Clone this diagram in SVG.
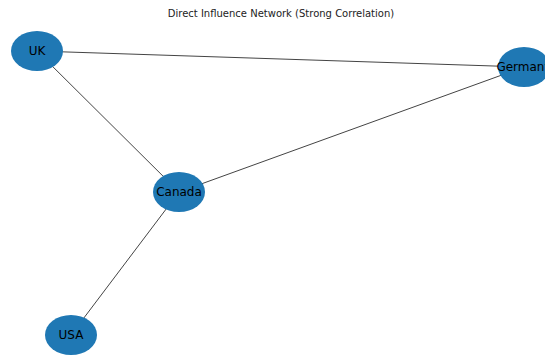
<svg xmlns="http://www.w3.org/2000/svg" width="545" height="356" viewBox="0 0 545 356">
  <style>
    .edge { stroke: #444; stroke-width: 1; fill: none; }
    .node ellipse { fill: #1f78b4; }
    .node text { font-family: "DejaVu Sans", sans-serif; font-size: 12px; fill: #000; text-anchor: middle; dominant-baseline: central; }
    .title { font-family: "DejaVu Sans", sans-serif; font-size: 10px; fill: #222; text-anchor: middle; }
  </style>
  <rect width="545" height="356" fill="#fff"/>
  <text class="title" x="281" y="17">Direct Influence Network (Strong Correlation)</text>
  <g id="edges">
    <line class="edge" x1="37" y1="51" x2="524" y2="67"/>
    <line class="edge" x1="37" y1="51" x2="179" y2="192"/>
    <line class="edge" x1="524" y1="67" x2="179" y2="192"/>
    <line class="edge" x1="179" y1="192" x2="71" y2="335"/>
  </g>
  <g id="node-uk" class="node">
    <ellipse cx="37" cy="51" rx="26" ry="20"/>
    <text x="37" y="51">UK</text>
  </g>
  <!-- this node sits on the right border; its label runs past the edge -->
  <g id="node-germany" class="node">
    <ellipse cx="524" cy="67" rx="26" ry="20"/>
    <text x="524" y="67">Germany</text>
  </g>
  <g id="node-canada" class="node">
    <ellipse cx="179" cy="192" rx="26" ry="20"/>
    <text x="179" y="192">Canada</text>
  </g>
  <g id="node-usa" class="node">
    <ellipse cx="71" cy="335" rx="26" ry="20"/>
    <text x="71" y="335">USA</text>
  </g>
</svg>
